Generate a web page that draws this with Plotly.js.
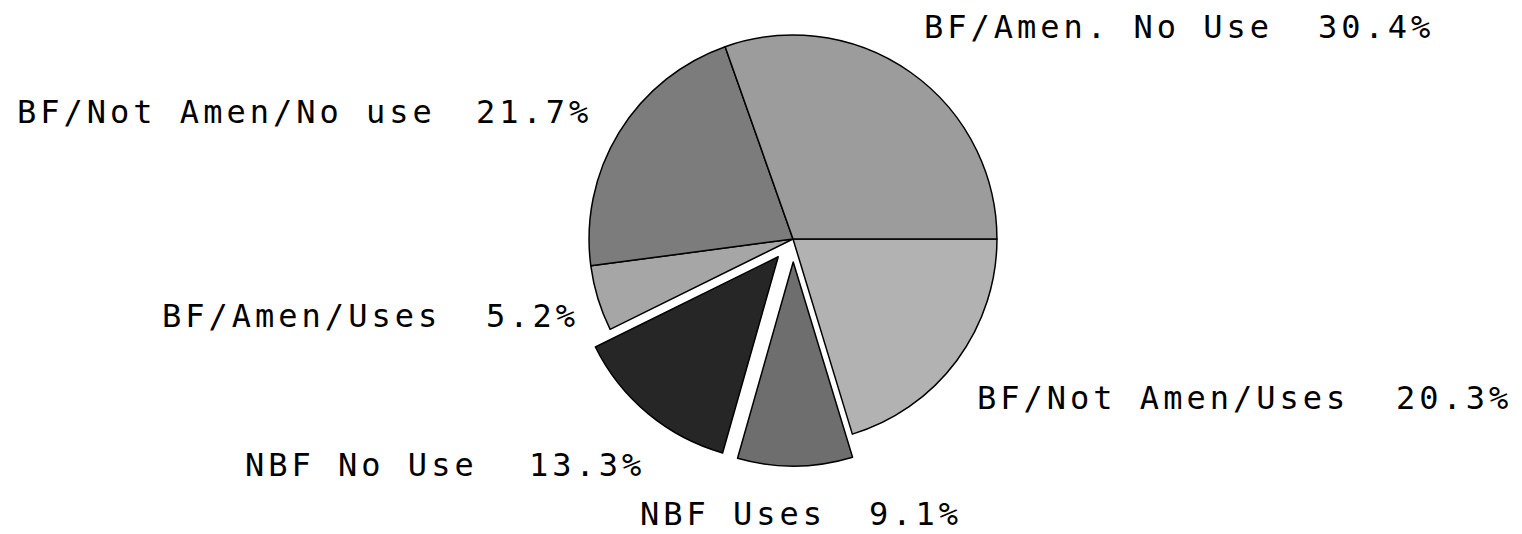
<!DOCTYPE html>
<html>
<head>
<meta charset="utf-8">
<script src="https://cdn.plot.ly/plotly-3.0.1.min.js"></script>
<style>
  html, body { margin: 0; padding: 0; background: #fff; }
  #chart { width: 1522px; height: 534px; }
  .annotation-text { letter-spacing: 4px; }
</style>
</head>
<body>
<div id="chart"></div>
<script>
// Data (clockwise from 3 o'clock)
const labels = ["BF/Not Amen/Uses", "NBF Uses", "NBF No Use", "BF/Amen/Uses", "BF/Not Amen/No use", "BF/Amen. No Use"];
const values = [20.3, 9.1, 13.3, 5.2, 21.7, 30.4];

// Styling / layout (not data)
const colors = ["#b2b2b2", "#6e6e6e", "#262626", "#a6a6a6", "#7c7c7c", "#9c9c9c"];
const pulls  = [0, 0.113, 0.113, 0, 0, 0];
// label layout in pixels: [name left x, percent right x, centre y]
const labelPos = [
  [975, 1514, 398],
  [638, 964, 514],
  [243, 647, 465],
  [160, 581, 316],
  [15, 594, 112],
  [922, 1436, 27]
];

const W = 1522, H = 534;
const font = {family: "DejaVu Sans Mono", size: 32, color: "#000"};

const annotations = [];
labels.forEach((lab, i) => {
  const p = labelPos[i];
  annotations.push({
    text: lab, xref: "paper", yref: "paper",
    x: p[0] / W, y: 1 - p[2] / H, xanchor: "left", yanchor: "middle",
    showarrow: false, font: font
  });
  annotations.push({
    text: values[i].toFixed(1) + "%", xref: "paper", yref: "paper",
    x: p[1] / W, y: 1 - p[2] / H, xanchor: "right", yanchor: "middle",
    showarrow: false, font: font
  });
});

const trace = {
  type: "pie",
  labels: labels,
  values: values,
  sort: false,
  direction: "clockwise",
  rotation: 90,
  pull: pulls,
  textinfo: "none",
  hoverinfo: "label+percent",
  marker: {colors: colors, line: {color: "#000", width: 1.5}},
  domain: {x: [566 / W, 1020 / W], y: [1 - 466 / H, 1 - 12 / H]}
};

const layout = {
  width: W, height: H,
  margin: {l: 0, r: 0, t: 0, b: 0},
  paper_bgcolor: "#fff",
  showlegend: false,
  annotations: annotations
};

Plotly.newPlot("chart", [trace], layout, {displayModeBar: false, staticPlot: true});
</script>
</body>
</html>
